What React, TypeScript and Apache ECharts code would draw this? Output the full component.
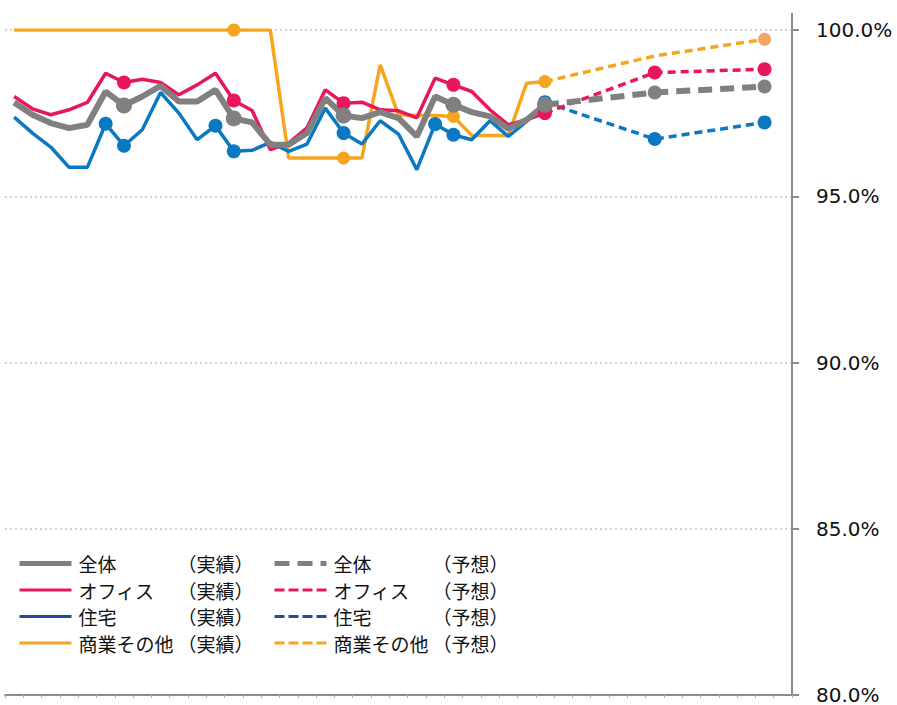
import React, { useEffect, useRef } from "react";
import * as echarts from "echarts";

// 43 period slots on the category axis (labels are not shown in the reference)
const categories: string[] = Array.from({ length: 43 }, (_, i) => String(i + 1));

// Actual values (periods 1..30)
const totalActual = [97.82, 97.45, 97.2, 97.05, 97.15, 98.15, 97.73, 98.0, 98.32, 97.85, 97.85, 98.2, 97.34, 97.22, 96.55, 96.55, 96.9, 97.95, 97.43, 97.35, 97.53, 97.35, 96.8, 98.0, 97.75, 97.53, 97.4, 97.03, 97.3, 97.75];
const officeActual = [98.0, 97.63, 97.45, 97.6, 97.82, 98.7, 98.42, 98.52, 98.42, 98.05, 98.35, 98.7, 97.88, 97.58, 96.4, 96.6, 97.06, 98.2, 97.8, 97.83, 97.6, 97.57, 97.36, 98.55, 98.35, 98.15, 97.6, 97.15, 97.3, 97.5];
const residentialActual = [97.38, 96.9, 96.48, 95.87, 95.87, 97.18, 96.52, 97.0, 98.12, 97.5, 96.7, 97.12, 96.35, 96.38, 96.62, 96.35, 96.57, 97.65, 96.9, 96.57, 97.27, 96.87, 95.8, 97.17, 96.85, 96.7, 97.27, 96.8, 97.25, 97.83];
const commercialActual = [100, 100, 100, 100, 100, 100, 100, 100, 100, 100, 100, 100, 100, 100, 100, 96.15, 96.15, 96.15, 96.15, 96.15, 98.95, 97.45, 97.43, 97.43, 97.4, 96.83, 96.83, 96.83, 98.4, 98.45];

// Forecast values at slots 30, 36, 42
const forecastIdx = [29, 35, 41];
const totalForecast = [97.75, 98.12, 98.3];
const officeForecast = [97.5, 98.72, 98.82];
const residentialForecast = [97.83, 96.72, 97.22];
const commercialForecast = [98.45, 99.22, 99.72];

// Marked points (slot indexes)
const totalMarks = [6, 12, 18, 24, 29];
const officeMarks = [6, 12, 18, 24, 29];
const residentialMarks = [5, 6, 11, 12, 18, 23, 24, 29];
const commercialMarks = [12, 18, 24, 29];

const yTicks = [80, 85, 90, 95, 100];

const GRAY = "#808080";
const RED = "#E8175D";
const BLUE = "#0A78C2";
const BLUE_LEGEND = "#1F4E9E";
const ORANGE = "#F5A51F";
const ORANGE_LIGHT = "#F6A462";

const N_TOTAL = "全体（実績）";
const N_OFFICE = "オフィス（実績）";
const N_RES = "住宅（実績）";
const N_COM = "商業その他（実績）";
const F_TOTAL = "全体（予想）";
const F_OFFICE = "オフィス（予想）";
const F_RES = "住宅（予想）";
const F_COM = "商業その他（予想）";

const W_TOTAL = 6;
const W_OTHER = 3.5;

function actualData(values: number[], marks: number[], size: number) {
  return values.map((v, i) =>
    marks.includes(i) ? { value: v, symbol: "circle", symbolSize: size } : { value: v, symbol: "none" }
  );
}

function forecastData(values: number[], size: number, lastColor?: string, hideMid?: boolean) {
  const arr: any[] = categories.map(() => null);
  forecastIdx.forEach((idx, k) => {
    if (k === 0 || (k === 1 && hideMid)) {
      arr[idx] = { value: values[k], symbol: "none" };
    } else {
      const item: any = { value: values[k], symbol: "circle", symbolSize: size };
      if (lastColor && k === forecastIdx.length - 1) item.itemStyle = { color: lastColor };
      arr[idx] = item;
    }
  });
  return arr;
}

const legendFont = "'Noto Sans CJK JP', 'Noto Sans', sans-serif";

function legendItem(name: string) {
  const isTotal = name.startsWith("全体");
  const isRes = name.startsWith("住宅");
  const isForecast = name.includes("予想");
  const ls: any = { width: isTotal ? 5 : 3 };
  if (isRes) ls.color = BLUE_LEGEND;
  if (isForecast) ls.type = isTotal ? [15, 8] : [10, 4];
  return { name, lineStyle: ls };
}

function makeLegend(names: string[], left: number, suffix: string) {
  return {
    data: names.map(legendItem),
    orient: "vertical",
    left,
    top: 554,
    padding: 0,
    itemWidth: 52,
    itemHeight: 14,
    itemGap: 7.5,
    selectedMode: false,
    itemStyle: { opacity: 0 },
    formatter: (name: string) => `{a|${name.replace(suffix, "")}}{b|${suffix}}`,
    textStyle: {
      fontFamily: legendFont,
      fontSize: 19,
      color: "#111",
      rich: {
        a: { fontFamily: legendFont, fontSize: 19, color: "#111", width: 99, padding: [0, 0, 0, 2] },
        b: { fontFamily: legendFont, fontSize: 19, color: "#111" },
      },
    },
  };
}

export default function App() {
  const ref = useRef<HTMLDivElement>(null);

  useEffect(() => {
    if (!ref.current) return;
    const chart = echarts.init(ref.current, undefined, { renderer: "svg" });
    const base = {
      type: "line",
      showAllSymbol: true,
      symbol: "none",
      emphasis: { disabled: true },
      silent: true,
    };
    chart.setOption({
      animation: false,
      backgroundColor: "#fff",
      grid: { left: 5, right: 105, top: 30, bottom: 8, containLabel: false },
      xAxis: {
        type: "category",
        data: categories,
        boundaryGap: true,
        axisLine: { show: true, lineStyle: { color: "#8c8c8c", width: 2 } },
        axisTick: { show: true, interval: 0, length: 3, lineStyle: { color: "#b0b0b0", width: 1 } },
        axisLabel: { show: false },
        splitLine: { show: false },
      },
      yAxis: {
        type: "value",
        position: "right",
        min: yTicks[0],
        max: yTicks[yTicks.length - 1],
        interval: 5,
        axisLine: { show: true, lineStyle: { color: "#8c8c8c", width: 2 } },
        axisTick: { show: true, length: 7, lineStyle: { color: "#8c8c8c", width: 2 } },
        axisLabel: {
          margin: 24,
          fontFamily: "'DejaVu Sans', Verdana, sans-serif",
          fontSize: 20,
          color: "#111",
          formatter: (v: number) => v.toFixed(1) + "%",
        },
        splitLine: { show: true, lineStyle: { color: "#c4c4c4", width: 1.5, type: [2, 3] } },
      },
      legend: [
        makeLegend([N_TOTAL, N_OFFICE, N_RES, N_COM], 17, "（実績）"),
        makeLegend([F_TOTAL, F_OFFICE, F_RES, F_COM], 272, "（予想）"),
      ],
      graphic: [
        {
          type: "line",
          shape: { x1: 792, y1: 13, x2: 792, y2: 31 },
          style: { stroke: "#8c8c8c", lineWidth: 2 },
          silent: true,
        },
      ],
      series: [
        { ...base, name: N_COM, color: ORANGE, lineStyle: { width: W_OTHER, color: ORANGE }, data: actualData(commercialActual, commercialMarks, 13) },
        { ...base, name: N_RES, color: BLUE, lineStyle: { width: W_OTHER, color: BLUE }, data: actualData(residentialActual, residentialMarks, 14) },
        { ...base, name: N_OFFICE, color: RED, lineStyle: { width: W_OTHER, color: RED }, data: actualData(officeActual, officeMarks, 14) },
        { ...base, name: N_TOTAL, color: GRAY, lineStyle: { width: W_TOTAL, color: GRAY }, data: actualData(totalActual, totalMarks, 16) },
        { ...base, name: F_COM, color: ORANGE, connectNulls: true, lineStyle: { width: W_OTHER, color: ORANGE, type: [8, 5] }, data: forecastData(commercialForecast, 13, ORANGE_LIGHT, true) },
        { ...base, name: F_RES, color: BLUE, connectNulls: true, lineStyle: { width: W_OTHER, color: BLUE, type: [8, 5] }, data: forecastData(residentialForecast, 14) },
        { ...base, name: F_OFFICE, color: RED, connectNulls: true, lineStyle: { width: W_OTHER, color: RED, type: [8, 5] }, data: forecastData(officeForecast, 14) },
        { ...base, name: F_TOTAL, color: GRAY, connectNulls: true, lineStyle: { width: W_TOTAL, color: GRAY, type: [14, 8] }, data: forecastData(totalForecast, 14) },
      ],
    });
    return () => chart.dispose();
  }, []);

  return (
    <div
      ref={ref}
      style={{ position: "fixed", left: 0, top: 0, width: 897, height: 705, background: "#fff" }}
    />
  );
}
